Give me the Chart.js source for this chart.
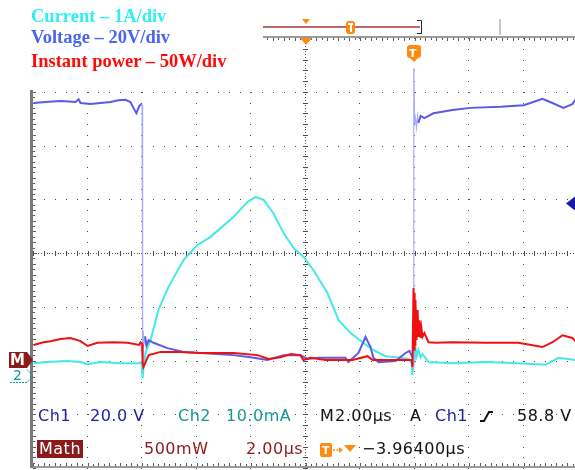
<!DOCTYPE html>
<html>
<head>
<meta charset="utf-8">
<script src="https://cdn.jsdelivr.net/npm/chart.js@4.4.1/dist/chart.umd.min.js"></script>
<style>
  html, body { margin: 0; padding: 0; background: #fff; overflow: hidden; }
  #wrap { position: relative; width: 578px; height: 470px; }
  .t { position: absolute; white-space: pre; font: 16px 'DejaVu Sans', sans-serif; line-height: 16px; letter-spacing: 0.5px; }
  .leg { position: absolute; white-space: pre; font: bold 18.5px 'Liberation Serif', serif; line-height: 18px; }
  .badge { position: absolute; font: bold 13px 'DejaVu Sans', sans-serif; line-height: 13px; color: #fff; }
</style>
</head>
<body>
<div id="wrap">
  <canvas id="scope"></canvas>
  <div id="legend"></div>
  <div class="t" style="left:38px;top:408px;color:#1c1c9c">Ch1</div>
  <div class="t" style="left:90px;top:408px;color:#1c1c9c">20.0 V</div>
  <div class="t" style="left:178px;top:408px;color:#149898">Ch2</div>
  <div class="t" style="left:226px;top:408px;color:#149898">10.0mA</div>
  <div class="t" style="left:320px;top:408px;color:#111">M</div>
  <div class="t" style="left:335px;top:408px;color:#111">2.00µs</div>
  <div class="t" style="left:410px;top:408px;color:#111">A</div>
  <div class="t" style="left:435px;top:408px;color:#1c1c9c">Ch1</div>
  <div class="t" style="left:517px;top:408px;color:#111">58.8 V</div>
  <div class="t" style="left:37px;top:440px;color:#fff;background:#8b1a1a;padding:1px 2px 1px 2px">Math</div>
  <div class="t" style="left:144px;top:441px;color:#8b1a1a">500mW</div>
  <div class="t" style="left:246px;top:441px;color:#8b1a1a">2.00µs</div>
  <div class="t" style="left:362px;top:441px;color:#111">−3.96400µs</div>
  <div class="badge" style="left:10px;top:353px;font-size:15px;line-height:15px">M</div>
  <div class="badge" style="left:13px;top:369px;color:#149898;font-size:14px;font-weight:normal">2</div>
  <div class="badge" style="left:409px;top:47px;font-size:11px">T</div>
  <div class="badge" style="left:322px;top:444px;font-size:11px">T</div>
</div>
<script>
// time in µs relative to trigger, amplitude in divisions from screen centre
const usPerDiv = 2;
const xCenter = -3.964;

const seriesNames = ['Current – 1A/div', 'Voltage – 20V/div', 'Instant power – 50W/div'];
const seriesColors = ['#2ff0f0', '#4a64ee', '#ff0a0a'];

const voltageT = [-13.94, -13.50, -12.95, -12.40, -12.29, -12.22, -11.85, -11.49, -11.12, -10.83, -10.57, -10.39, -10.28, -10.17, -10.06, -9.98, -9.96, -9.94, -9.92, -9.89, -9.85, -9.80, -9.72, -9.54, -9.03, -8.44, -7.82, -6.61, -5.98, -5.36, -4.77, -4.15, -3.89, -3.49, -2.94, -2.50, -2.39, -2.02, -1.76, -1.58, -1.47, -1.28, -0.66, -0.29, -0.15, -0.04, -0.01, 0.01, 0.04, 0.07, 0.11, 0.15, 0.18, 0.26, 0.40, 0.73, 1.43, 2.09, 3.19, 4.04, 4.29, 4.73, 5.10, 5.50, 5.83, 5.94];
const voltageDiv = [2.79, 2.81, 2.83, 2.81, 2.86, 2.79, 2.77, 2.79, 2.81, 2.84, 2.85, 2.81, 2.70, 2.60, 2.74, 2.77, 2.76, -2.12, -1.45, -1.70, -1.55, -1.72, -1.62, -1.67, -1.77, -1.84, -1.86, -1.90, -1.94, -1.99, -1.90, -1.90, -1.97, -1.95, -1.95, -1.95, -2.03, -1.86, -1.56, -1.75, -1.95, -2.03, -2.01, -1.86, -1.82, -1.94, -2.16, 3.44, 2.40, 2.51, 2.33, 2.55, 2.42, 2.55, 2.51, 2.60, 2.66, 2.70, 2.72, 2.75, 2.79, 2.87, 2.79, 2.70, 2.77, 2.85];

const currentT = [-13.94, -13.43, -12.70, -12.22, -11.96, -11.49, -10.75, -10.06, -9.98, -9.94, -9.91, -9.83, -9.65, -9.36, -8.99, -8.44, -7.93, -7.45, -6.61, -6.09, -5.80, -5.50, -5.14, -4.77, -4.40, -4.04, -3.67, -3.16, -2.75, -2.31, -1.87, -1.50, -1.03, -0.48, -0.18, -0.07, -0.04, 0.00, 0.04, 0.07, 0.11, 0.18, 0.26, 0.33, 0.55, 1.43, 2.64, 3.85, 4.84, 5.32, 5.94];
const currentDiv = [-2.05, -2.03, -2.01, -2.03, -2.07, -2.03, -2.05, -2.05, -2.03, -2.33, -2.14, -1.84, -1.62, -1.06, -0.63, -0.13, 0.15, 0.30, 0.67, 0.95, 1.04, 0.99, 0.74, 0.37, 0.09, -0.07, -0.32, -0.74, -1.25, -1.49, -1.66, -1.80, -1.92, -1.95, -1.97, -2.05, -2.27, -1.80, -1.94, -1.75, -1.92, -1.80, -1.94, -1.88, -2.03, -2.05, -2.03, -2.05, -2.08, -1.95, -1.99];

const powerT = [-13.94, -13.58, -13.32, -12.95, -12.59, -12.22, -11.96, -11.60, -11.01, -10.50, -10.06, -10.02, -9.96, -9.94, -9.91, -9.72, -9.28, -8.55, -7.82, -6.61, -5.72, -5.32, -4.88, -4.51, -4.15, -4.04, -3.78, -3.23, -2.24, -1.69, -1.50, -0.07, -0.04, 0.00, 0.02, 0.04, 0.06, 0.07, 0.11, 0.15, 0.18, 0.22, 0.26, 0.29, 0.33, 0.40, 0.55, 0.81, 1.43, 2.64, 3.85, 4.73, 5.10, 5.47, 5.83, 5.94];
const powerDiv = [-1.71, -1.66, -1.64, -1.60, -1.58, -1.64, -1.73, -1.67, -1.66, -1.67, -1.71, -1.66, -1.69, -2.05, -2.12, -1.90, -1.84, -1.84, -1.86, -1.86, -1.90, -1.97, -1.94, -1.88, -1.90, -1.99, -1.95, -1.99, -1.99, -1.92, -1.99, -1.99, -2.12, -0.65, -1.80, -0.74, -1.71, -0.87, -1.62, -1.06, -1.56, -1.25, -1.58, -1.40, -1.56, -1.49, -1.66, -1.67, -1.66, -1.67, -1.67, -1.75, -1.66, -1.53, -1.58, -1.64];

const pts = (ts, vs) => ts.map((t, i) => ({ x: t, y: vs[i] }));

document.getElementById('legend').innerHTML = seriesNames.map((n, i) =>
  `<div class="leg" style="left:31px;top:${[7, 28, 52][i]}px;color:${seriesColors[i]}">${n}</div>`).join('');

function poly(ctx, p, fill) {
  ctx.beginPath();
  p.forEach(([a, b], i) => i ? ctx.lineTo(a, b) : ctx.moveTo(a, b));
  ctx.closePath();
  ctx.fillStyle = fill;
  ctx.fill();
}

const scopeGrid = {
  id: 'scopeGrid',
  beforeDatasetsDraw(chart) {
    const { ctx, chartArea: a, scales: { x, y } } = chart;
    ctx.save();
    ctx.fillStyle = '#4a4a4a';
    // verticals
    for (let i = 1; i < 10; i++) {
      const px = Math.round(x.getPixelForValue(x.min + i * usPerDiv)) - 1;
      if (i === 5) {
        for (let k = 0; k <= 160; k++) ctx.fillRect(px, Math.round(y.getPixelForValue(-4 + k / 20)), 1, 1);
        for (let k = 0; k <= 40; k++) ctx.fillRect(px - 2, Math.round(y.getPixelForValue(-4 + k / 5)), 5, 1);
      } else {
        for (let k = 0; k <= 40; k++) ctx.fillRect(px, Math.round(y.getPixelForValue(-4 + k / 5)), 1, 1);
      }
    }
    // horizontals
    for (let j = 1; j < 8; j++) {
      const py = Math.round(y.getPixelForValue(-4 + j));
      if (j === 4) {
        for (let k = 0; k <= 200; k++) ctx.fillRect(Math.round(x.getPixelForValue(x.min + k * usPerDiv / 20)), py, 1, 1);
        for (let k = 0; k <= 50; k++) ctx.fillRect(Math.round(x.getPixelForValue(x.min + k * usPerDiv / 5)), py - 2, 1, 5);
      } else {
        for (let k = 0; k <= 50; k++) ctx.fillRect(Math.round(x.getPixelForValue(x.min + k * usPerDiv / 5)), py, 1, 1);
      }
    }
    // blank box behind the legend
    ctx.fillStyle = '#fff';
    ctx.fillRect(0, 0, 263, 89);
    // frame: top ruler, bottom ruler, left bar
    ctx.fillStyle = '#9a9a9a';
    ctx.fillRect(263, a.top - 2, a.right - 263, 2);
    ctx.fillRect(a.left - 3, a.bottom - 2, a.right - a.left + 3, 2);
    ctx.fillStyle = '#7a7a7a';
    ctx.fillRect(a.left - 3, 90, 3, a.bottom - 90);
    ctx.fillStyle = '#5a5a5a';
    for (let k = 0; k <= 100; k++) {
      const px = Math.round(x.getPixelForValue(x.min + k * usPerDiv / 10));
      if (px >= 263) ctx.fillRect(px, a.top, 1, k % 2 ? 2 : 3);
      ctx.fillRect(px, a.bottom - (k % 2 ? 4 : 5), 1, k % 2 ? 2 : 3);
    }
    for (let k = 0; k <= 80; k++) {
      const py = Math.round(y.getPixelForValue(-4 + k / 10));
      if (py >= 90) ctx.fillRect(a.left, py, k % 2 ? 2 : 3, 1);
    }
    ctx.restore();
  },
  afterDatasetsDraw(chart) {
    const { ctx, scales: { x, y } } = chart;
    const tx = Math.round(x.getPixelForValue(0));
    const cx = Math.round(x.getPixelForValue(xCenter));
    const orange = '#ff8a10';
    ctx.save();
    // record-length bar
    ctx.fillStyle = '#b96a6a';
    ctx.fillRect(263, 26, 157, 2);
    ctx.fillStyle = '#c8c8c8';
    ctx.fillRect(499, 19, 2, 16);
    ctx.strokeStyle = '#222';
    ctx.lineWidth = 1;
    ctx.beginPath();
    ctx.moveTo(417, 20.5); ctx.lineTo(421.5, 20.5); ctx.lineTo(421.5, 33.5); ctx.lineTo(417, 33.5);
    ctx.stroke();
    poly(ctx, [[cx - 4, 19], [cx + 4, 19], [cx, 24]], orange);
    poly(ctx, [[cx - 6, 38], [cx + 6, 38], [cx, 45]], orange);
    ctx.fillStyle = orange;
    ctx.beginPath(); ctx.roundRect(346, 21, 9, 13, 3); ctx.fill();
    ctx.fillStyle = '#fff';
    ctx.fillRect(348, 23, 5, 2); ctx.fillRect(350, 23, 2, 9);
    // trigger badge
    ctx.fillStyle = orange;
    ctx.beginPath(); ctx.roundRect(tx - 7, 45, 14, 13, 3); ctx.fill();
    poly(ctx, [[tx - 7, 55], [tx + 7, 55], [tx, 62]], orange);
    // trigger level arrow
    poly(ctx, [[566, y.getPixelForValue(0.92)], [575, y.getPixelForValue(1.05)], [575, y.getPixelForValue(0.79)]], '#1a1aa8');
    // math ground marker
    poly(ctx, [[9, 352], [27, 352], [33, 360], [27, 368], [9, 368]], '#8b1a1a');
    // ch2 ground marker outline
    ctx.strokeStyle = '#149898';
    ctx.setLineDash([2, 1]);
    ctx.beginPath();
    ctx.moveTo(10, 382.5); ctx.lineTo(27, 382.5); ctx.lineTo(33, 376); ctx.lineTo(27, 369.5);
    ctx.stroke();
    ctx.setLineDash([]);
    // rising edge symbol
    ctx.strokeStyle = '#111';
    ctx.lineWidth = 2;
    ctx.beginPath();
    ctx.moveTo(480, 421); ctx.lineTo(484, 421); ctx.lineTo(489, 412); ctx.lineTo(493, 412);
    ctx.stroke();
    // delay readout icon
    ctx.fillStyle = orange;
    ctx.beginPath(); ctx.roundRect(320, 443, 12, 14, 2); ctx.fill();
    ctx.strokeStyle = orange;
    ctx.lineWidth = 1.5;
    ctx.setLineDash([2, 1.5]);
    ctx.beginPath(); ctx.moveTo(333, 450); ctx.lineTo(340, 450); ctx.stroke();
    ctx.setLineDash([]);
    poly(ctx, [[339, 447], [343, 450], [339, 453]], orange);
    poly(ctx, [[344, 445], [356, 445], [350, 452]], orange);
    ctx.restore();
  }
};

const flat = (c) => Math.abs(c.p1.x - c.p0.x) < 1.2;

new Chart(document.getElementById('scope'), {
  type: 'line',
  data: {
    datasets: [{
      label: seriesNames[2],
      data: pts(powerT, powerDiv),
      borderColor: '#ee1111',
      borderWidth: 2,
      order: 0
    }, {
      label: seriesNames[1],
      data: pts(voltageT, voltageDiv),
      borderColor: '#5a5ae6',
      borderWidth: 2,
      order: 1,
      segment: {
        borderColor: c => flat(c) ? '#aaaaff' : undefined,
        borderWidth: c => flat(c) ? 1.2 : undefined
      }
    }, {
      label: seriesNames[0],
      data: pts(currentT, currentDiv),
      borderColor: '#44e8e8',
      borderWidth: 2,
      order: 2
    }]
  },
  options: {
    responsive: true,
    maintainAspectRatio: false,
    animation: false,
    layout: { padding: { left: 33, top: 38, right: 0, bottom: 2 } },
    elements: { point: { radius: 0 }, line: { tension: 0 } },
    plugins: { legend: { display: false }, tooltip: { enabled: false } },
    scales: {
      x: { type: 'linear', display: false, min: xCenter - 5 * usPerDiv, max: xCenter + 5 * usPerDiv },
      y: { type: 'linear', display: false, min: -4, max: 4 }
    }
  },
  plugins: [scopeGrid]
});
</script>
</body>
</html>
